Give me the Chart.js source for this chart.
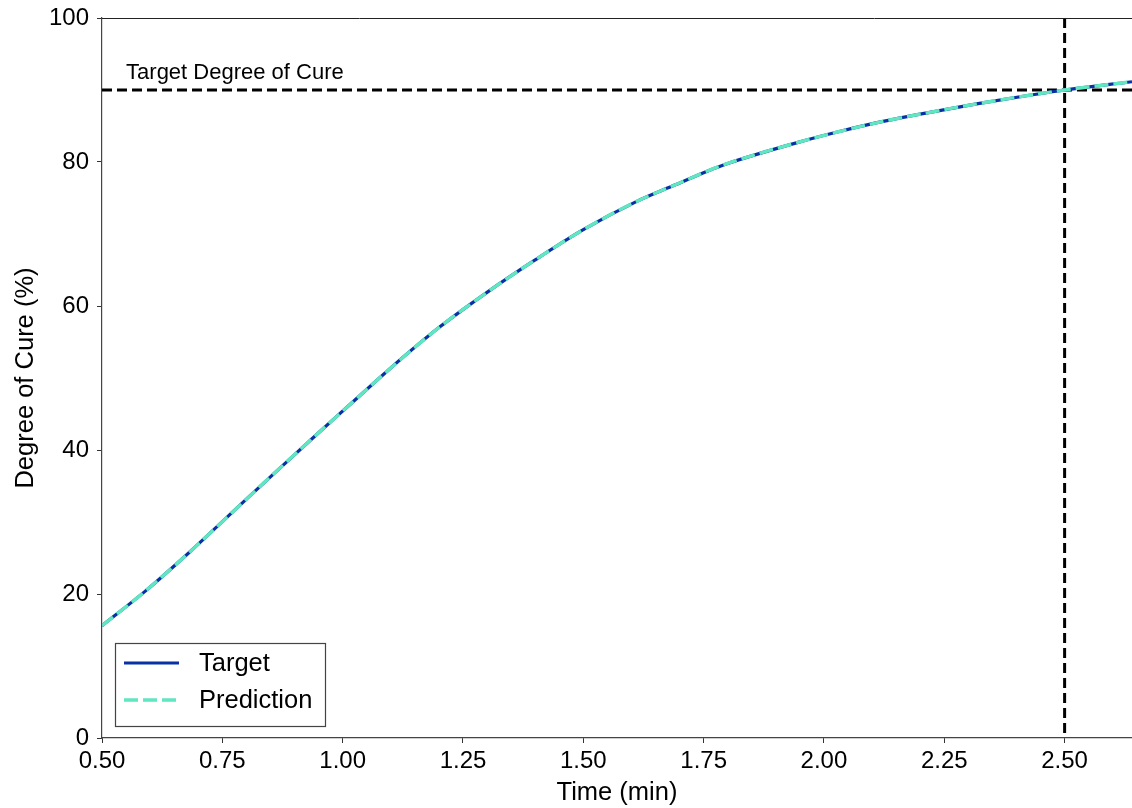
<!DOCTYPE html>
<html>
<head>
<meta charset="utf-8">
<script src="https://cdn.jsdelivr.net/npm/chart.js@4.4.1/dist/chart.umd.min.js"></script>
<style>
  html, body { margin: 0; padding: 0; background: #fff; }
  #wrap { width: 1132px; height: 808px; }
</style>
</head>
<body>
<div id="wrap"><canvas id="c" width="1132" height="808"></canvas></div>
<script>
// ---- data ----
const timeMin = [0.50, 0.59, 0.68, 0.77, 0.86, 0.95, 1.01, 1.10, 1.20, 1.30, 1.40, 1.50, 1.61, 1.69, 1.76, 1.80, 1.95, 2.03, 2.12, 2.22, 2.32, 2.43, 2.50, 2.64];
const targetCure = [15.6, 20.4, 25.7, 31.3, 36.9, 42.4, 46.0, 51.4, 57.0, 61.9, 66.4, 70.6, 74.5, 76.8, 78.8, 79.8, 82.8, 84.2, 85.6, 86.9, 88.1, 89.3, 90.0, 91.15];
const predictionCure = [15.6, 20.4, 25.7, 31.3, 36.9, 42.4, 46.0, 51.4, 57.0, 61.9, 66.4, 70.6, 74.5, 76.8, 78.8, 79.8, 82.8, 84.2, 85.6, 86.9, 88.1, 89.3, 90.0, 91.15];
const seriesLabels = ['Target', 'Prediction'];
const xTicks = [0.50, 0.75, 1.00, 1.25, 1.50, 1.75, 2.00, 2.25, 2.50];
const yTicks = [0, 20, 40, 60, 80, 100];
const targetDegree = 90;      // horizontal reference line
const targetTime = 2.50;      // vertical reference line
const annotationText = 'Target Degree of Cure';
const annotationPos = [0.55, 91.5];

const FONT = "'Liberation Sans', Arial, Helvetica, sans-serif";
const BLUE = '#0a30a5';
const TEAL = '#60e6c0';

const toPts = (xs, ys) => xs.map((x, i) => ({ x: x, y: ys[i] }));

const refLines = {
  id: 'refLines',
  beforeDatasetsDraw(chart) {
    const { ctx, chartArea: a, scales: { x, y } } = chart;
    ctx.save();
    ctx.strokeStyle = '#000';
    ctx.lineWidth = 3;
    ctx.setLineDash([10, 5]);
    const yp = y.getPixelForValue(targetDegree);
    ctx.beginPath(); ctx.moveTo(a.left, yp); ctx.lineTo(a.right, yp); ctx.stroke();
    const xp = x.getPixelForValue(targetTime);
    ctx.beginPath(); ctx.moveTo(xp, a.top); ctx.lineTo(xp, a.bottom); ctx.stroke();
    ctx.restore();
    // top spine
    ctx.save();
    ctx.strokeStyle = '#222'; ctx.lineWidth = 1;
    ctx.beginPath(); ctx.moveTo(a.left, a.top + 0.5); ctx.lineTo(a.right, a.top + 0.5); ctx.stroke();
    ctx.restore();
  },
  afterDatasetsDraw(chart) {
    const { ctx, scales: { x, y } } = chart;
    ctx.save();
    ctx.fillStyle = '#000';
    ctx.font = '22px ' + FONT;
    ctx.textBaseline = 'alphabetic';
    ctx.textAlign = 'left';
    ctx.fillText(annotationText, x.getPixelForValue(annotationPos[0]), y.getPixelForValue(annotationPos[1]));
    ctx.restore();
  }
};

const customLegend = {
  id: 'customLegend',
  afterDraw(chart) {
    const { ctx, chartArea: a } = chart;
    const bx = a.left + 13, bw = 210, bh = 83;
    const by = a.bottom - 12 - bh;
    ctx.save();
    ctx.fillStyle = 'rgba(255,255,255,0.85)';
    ctx.fillRect(bx, by, bw, bh);
    ctx.strokeStyle = '#444';
    ctx.lineWidth = 1.2;
    ctx.strokeRect(bx + 0.5, by + 0.5, bw, bh);
    ctx.font = '25.5px ' + FONT;
    ctx.textBaseline = 'middle';
    ctx.fillStyle = '#000';
    chart.data.datasets.forEach((ds, i) => {
      const cy = by + 20 + i * 37;
      ctx.save();
      ctx.strokeStyle = ds.borderColor;
      ctx.lineWidth = ds.borderWidth;
      ctx.setLineDash(ds.borderDash || []);
      ctx.beginPath(); ctx.moveTo(bx + 9, cy); ctx.lineTo(bx + 64, cy); ctx.stroke();
      ctx.restore();
      ctx.fillText(ds.label, bx + 84, cy + 1);
    });
    ctx.restore();
  }
};

new Chart(document.getElementById('c'), {
  type: 'line',
  data: {
    datasets: [
      { label: seriesLabels[0], data: toPts(timeMin, targetCure), borderColor: BLUE, borderWidth: 3.2, pointRadius: 0, cubicInterpolationMode: 'monotone', order: 2, fill: false },
      { label: seriesLabels[1], data: toPts(timeMin, predictionCure), borderColor: TEAL, borderWidth: 3.4, borderDash: [14, 5], pointRadius: 0, cubicInterpolationMode: 'monotone', order: 1, fill: false }
    ]
  },
  options: {
    responsive: false,
    animation: false,
    events: [],
    layout: { padding: { top: 18, right: 0, bottom: 0, left: 11 } },
    plugins: { legend: { display: false }, tooltip: { enabled: false } },
    scales: {
      x: {
        type: 'linear', min: 0.5, max: 2.64,
        afterFit(s) { s.height = 70; s.paddingLeft = 0; s.paddingRight = 0; },
        afterBuildTicks(s) { s.ticks = xTicks.map(v => ({ value: v })); },
        ticks: { includeBounds: false, color: '#000', padding: 4, font: { family: FONT, size: 24 }, maxRotation: 0, autoSkip: false, callback: v => Number(v).toFixed(2) },
        grid: { display: true, drawOnChartArea: false, drawTicks: true, tickLength: 5, color: '#333', lineWidth: 1 },
        border: { display: true, color: '#444', width: 1.2 },
        title: { display: true, text: 'Time (min)', color: '#000', font: { family: FONT, size: 25.5 }, padding: { top: 0, bottom: 0 } }
      },
      y: {
        type: 'linear', min: 0, max: 100,
        afterFit(s) { s.width = 91; s.paddingTop = 0; s.paddingBottom = 0; },
        afterBuildTicks(s) { s.ticks = yTicks.map(v => ({ value: v })); },
        ticks: { color: '#000', padding: 8, font: { family: FONT, size: 24 }, callback: v => String(v) },
        grid: { display: true, drawOnChartArea: false, drawTicks: true, tickLength: 5, color: '#333', lineWidth: 1 },
        border: { display: true, color: '#444', width: 1.2 },
        title: { display: true, text: 'Degree of Cure (%)', color: '#000', font: { family: FONT, size: 25.5 }, padding: { top: 0, bottom: 0 } }
      }
    }
  },
  plugins: [refLines, customLegend]
});
</script>
</body>
</html>
